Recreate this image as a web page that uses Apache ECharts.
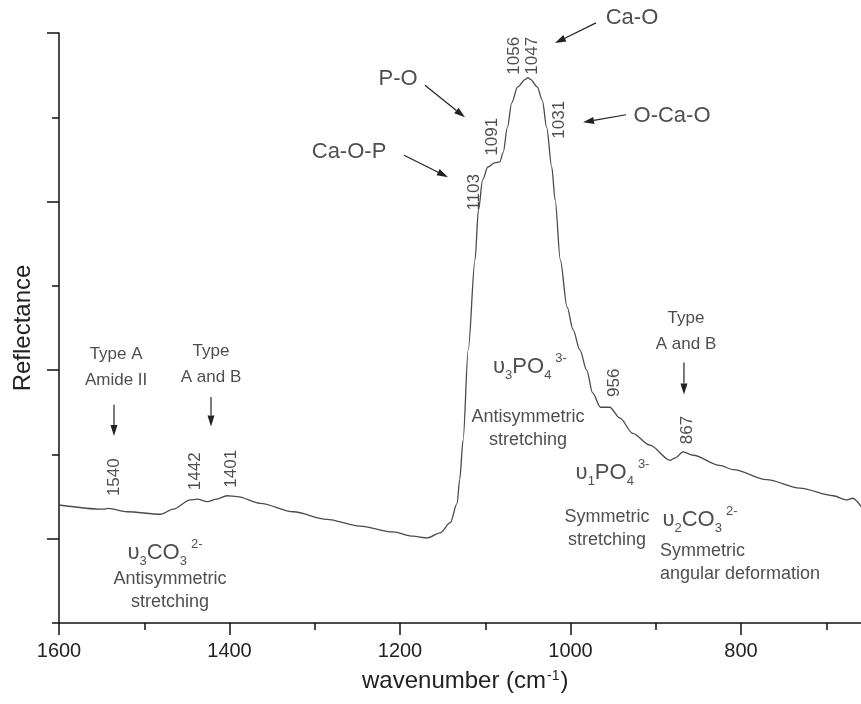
<!DOCTYPE html>
<html>
<head>
<meta charset="utf-8">
<title>Reflectance spectrum</title>
<script src="https://cdn.jsdelivr.net/npm/echarts@6/dist/echarts.min.js"></script>
<style>
  html, body { margin: 0; padding: 0; background: #fff; }
  #chart { width: 861px; height: 704px; }
</style>
</head>
<body>
<div id="chart"></div>
<script>
// spectrum (cm-1 / arbitrary reflectance units)
const wavenumber = [1600, 1548, 1542, 1520, 1481, 1466, 1446, 1438, 1426, 1415, 1403, 1391, 1364, 1325,
  1286, 1247, 1208, 1185, 1168, 1153, 1141, 1133, 1130, 1126, 1120, 1112, 1108, 1103, 1097, 1089,
  1083, 1079, 1074, 1069, 1062, 1053, 1050, 1047, 1039, 1033, 1028, 1022, 1018, 1012, 1004, 997,
  989, 981, 974, 965, 954, 942, 927, 907, 883, 877, 868, 856, 825, 809, 770, 731, 692, 676, 669, 659];
const reflectance = [1.40, 1.35, 1.36, 1.32, 1.29, 1.35, 1.46, 1.47, 1.44, 1.47, 1.51, 1.50, 1.42, 1.32,
  1.23, 1.15, 1.08, 1.03, 1.01, 1.07, 1.19, 1.42, 1.70, 2.17, 3.24, 4.31, 4.90, 5.26, 5.41, 5.46,
  5.47, 5.58, 5.88, 6.17, 6.36, 6.45, 6.47, 6.45, 6.36, 6.20, 5.88, 5.41, 5.02, 4.31, 3.75, 3.48,
  3.24, 3.00, 2.73, 2.56, 2.56, 2.43, 2.25, 2.11, 1.93, 1.96, 2.03, 1.99, 1.87, 1.82, 1.70, 1.60,
  1.51, 1.46, 1.48, 1.38];

const xLabels = [800, 1000, 1200, 1400, 1600];

// peak numbers (rotated)
const peakText = ['1540', '1442', '1401', '1103', '1091', '1056', '1047', '1031', '956', '867'];
const peakX = [1535.5, 1440.5, 1398.2, 1113.2, 1092.1, 1066.3, 1045.2, 1013.5, 949, 863.3];
const peakY = [1.73, 1.80, 1.83, 5.11, 5.77, 6.73, 6.73, 5.97, 2.85, 2.29];

// annotations
const typeText = ['Type A\nAmide II', 'Type\nA and B', 'Type\nA and B'];
const typeX = [1533, 1421.7, 864.5];
const typeY = [3.03, 3.07, 3.46];

const bondText = ['Ca-O-P', 'P-O', 'Ca-O', 'O-Ca-O'];
const bondX = [1259.8, 1202.3, 927.9, 880.9];
const bondY = [5.59, 6.45, 7.18, 6.02];

const modeText = ['Antisymmetric\nstretching', 'Antisymmetric\nstretching', 'Symmetric\nstretching'];
const modeX = [1469.8, 1049.9, 957.2];
const modeY = [0.38, 2.31, 1.12];

const deformText = ['Symmetric\nangular deformation'];
const deformX = [895];
const deformY = [0.72];

const formulaText = [
  '{m|υ}{s|3}{m|CO}{s|3}{p|2-}',
  '{m|υ}{s|3}{m|PO}{s|4}{p|3-}',
  '{m|υ}{s|1}{m|PO}{s|4}{p|3-}',
  '{m|υ}{s|2}{m|CO}{s|3}{p|2-}'
];
const formulaX = [1475.7, 1047.5, 950.7, 848.1];
const formulaY = [0.83, 3.04, 1.78, 1.22];

const arrowFrom = [[1535.5, 2.59], [1421.7, 2.68], [866.9, 3.09], [1195.3, 5.55], [1170.7, 6.38], [970.1, 7.12], [934.9, 6.03]];
const arrowTo = [[1535.5, 2.22], [1421.7, 2.33], [866.9, 2.71], [1143.7, 5.29], [1123.8, 6.00], [1018.2, 6.88], [985.3, 5.94]];

const ink = '#222';

function notes(text, xs, ys) {
  return text.map((t, i) => ({ name: t, value: [xs[i], ys[i]] }));
}

function textSeries(name, data, label) {
  return {
    name: name,
    type: 'scatter',
    symbolSize: 0,
    silent: true,
    clip: false,
    data: data,
    label: Object.assign({ show: true, position: 'inside', color: ink, formatter: p => p.name }, label)
  };
}

// arrow: straight shaft with a filled head at the "to" end
function renderArrow(params, api) {
  const p1 = api.coord([api.value(0), api.value(1)]);
  const p2 = api.coord([api.value(2), api.value(3)]);
  const a = Math.atan2(p2[1] - p1[1], p2[0] - p1[0]);
  const len = 11, half = 3.5;
  const bx = p2[0] - len * Math.cos(a), by = p2[1] - len * Math.sin(a);
  return {
    type: 'group',
    children: [{
      type: 'line',
      shape: { x1: p1[0], y1: p1[1], x2: bx, y2: by },
      style: { stroke: '#222', lineWidth: 1.2 }
    }, {
      type: 'polygon',
      shape: { points: [p2, [bx + half * Math.sin(a), by - half * Math.cos(a)], [bx - half * Math.sin(a), by + half * Math.cos(a)]] },
      style: { fill: '#222' }
    }]
  };
}

const chart = echarts.init(document.getElementById('chart'));

chart.setOption({
  animation: false,
  textStyle: { fontFamily: 'Liberation Sans, Arial, sans-serif' },
  grid: { left: 59, top: 33, bottom: 81, right: -50.5, containLabel: false, outerBoundsMode: 'none' },
  xAxis: {
    type: 'value',
    inverse: true,
    min: 600,
    max: 1600,
    interval: 200,
    name: 'wavenumber (cm{sup|-1})',
    nameLocation: 'middle',
    nameGap: 46,
    nameTextStyle: {
      fontSize: 24, color: ink, padding: [0, 40, 0, 0],
      rich: { sup: { fontSize: 14, verticalAlign: 'top', color: ink, padding: [0, 1, 0, 1] } }
    },
    axisLine: { lineStyle: { color: '#111', width: 1.5 } },
    axisTick: { inside: false, length: 12, lineStyle: { color: '#111', width: 1.5 } },
    minorTick: { show: true, splitNumber: 2, length: 7, lineStyle: { color: '#111', width: 1.5 } },
    splitLine: { show: false },
    axisLabel: {
      fontSize: 20, color: ink, margin: 18,
      formatter: v => (xLabels.indexOf(v) >= 0 ? String(v) : '')
    }
  },
  yAxis: [{
    type: 'value',
    min: 0,
    max: 7,
    interval: 1,
    name: 'Reflectance',
    nameLocation: 'middle',
    nameGap: 24,
    nameTextStyle: { fontSize: 24, color: ink },
    axisLine: { lineStyle: { color: '#111', width: 1.5 } },
    axisTick: { inside: false, length: 7, lineStyle: { color: '#111', width: 1.5 } },
    axisLabel: { show: false },
    splitLine: { show: false }
  }, {
    type: 'value',
    min: 0,
    max: 7,
    position: 'left',
    axisLine: { show: false },
    axisTick: { inside: false, length: 12, customValues: [1, 3, 5, 7], lineStyle: { color: '#111', width: 1.5 } },
    axisLabel: { show: false },
    splitLine: { show: false }
  }],
  series: [
    {
      name: 'spectrum',
      type: 'line',
      data: wavenumber.map((w, i) => [w, reflectance[i]]),
      symbol: 'none',
      smooth: 0.3,
      smoothMonotone: 'x',
      lineStyle: { color: '#4a4a4a', width: 1.3 }
    },
    textSeries('peaks', notes(peakText, peakX, peakY), { rotate: 90, fontSize: 17 }),
    textSeries('types', notes(typeText, typeX, typeY), { fontSize: 17, lineHeight: 26 }),
    textSeries('bonds', notes(bondText, bondX, bondY), { fontSize: 22 }),
    textSeries('modes', notes(modeText, modeX, modeY), { fontSize: 18, lineHeight: 23 }),
    textSeries('deformation', notes(deformText, deformX, deformY), { fontSize: 18, lineHeight: 23, position: 'right', distance: 0, align: 'left' }),
    textSeries('formulas', notes(formulaText, formulaX, formulaY), {
      rich: {
        m: { fontSize: 22, lineHeight: 30, color: ink },
        s: { fontSize: 13, verticalAlign: 'bottom', color: ink },
        p: { fontSize: 13, verticalAlign: 'top', color: ink, padding: [0, 0, 0, 4] }
      }
    }),
    {
      name: 'arrows',
      type: 'custom',
      silent: true,
      clip: false,
      renderItem: renderArrow,
      encode: { x: [0, 2], y: [1, 3] },
      data: arrowFrom.map((a, i) => [a[0], a[1], arrowTo[i][0], arrowTo[i][1]])
    }
  ]
});
</script>
</body>
</html>
